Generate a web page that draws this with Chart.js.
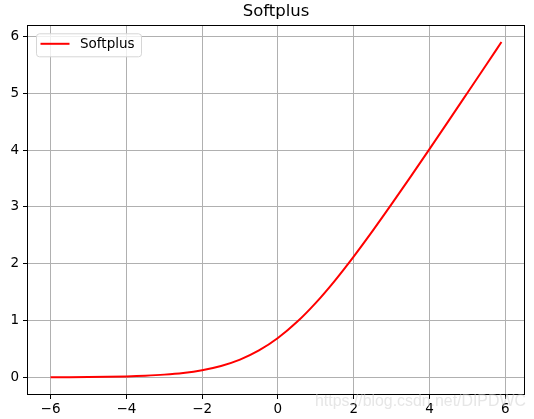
<!DOCTYPE html>
<html>
<head>
<meta charset="utf-8">
<script src="https://cdn.jsdelivr.net/npm/chart.js@4"></script>
<style>
	html, body {margin: 0; padding: 0; background: #fff;}
	#wrap {width: 534px; height: 419px;}
</style>
</head>
<body>
<div id="wrap"><canvas id="chart" width="534" height="419"></canvas></div>
<script>
// values, x from -6 to 5.9
var xValues = [-6, -5.5, -5, -4.5, -4, -3.5, -3, -2.5, -2, -1.5, -1, -0.5, 0, 0.5, 1, 1.5, 2, 2.5, 3, 3.5, 4, 4.5, 5, 5.5, 5.9];
var yValues = [0.0025, 0.0041, 0.0067, 0.011, 0.018, 0.030, 0.049, 0.079, 0.127, 0.201, 0.313, 0.474, 0.693, 0.974, 1.313, 1.701, 2.127, 2.579, 3.049, 3.530, 4.018, 4.511, 5.007, 5.504, 5.903];
var xTicks = [-6, -4, -2, 0, 2, 4, 6];
var yTicks = [0, 1, 2, 3, 4, 5, 6];
var seriesName = 'Softplus';
var watermark = 'https://blog.csdn.net/DIPDWC';

var tickFont = {family: 'DejaVu Sans', size: 13.5};

function minusLabel(v){
	return String(v).replace('-', '\u2212');
}

var points = [];
for(var i = 0; i < xValues.length; i++){
	points.push({x: xValues[i], y: yValues[i]});
}

// frame, legend box and watermark
var extras = {
	id: 'extras',
	afterDraw: function(chart){
		var ctx = chart.ctx;
		var a = chart.chartArea;
		ctx.save();
		ctx.strokeStyle = '#000';
		ctx.lineWidth = 1;
		ctx.strokeRect(27.5, 25.5, 497, 369);

		// legend
		var lx = a.left + 8.5, ly = a.top + 8.5, lw = 105, lh = 23, r = 3;
		ctx.beginPath();
		ctx.moveTo(lx + r, ly);
		ctx.arcTo(lx + lw, ly, lx + lw, ly + lh, r);
		ctx.arcTo(lx + lw, ly + lh, lx, ly + lh, r);
		ctx.arcTo(lx, ly + lh, lx, ly, r);
		ctx.arcTo(lx, ly, lx + lw, ly, r);
		ctx.closePath();
		ctx.fillStyle = 'rgba(255,255,255,0.8)';
		ctx.fill();
		ctx.strokeStyle = '#d6d6d6';
		ctx.lineWidth = 1;
		ctx.stroke();
		ctx.beginPath();
		ctx.moveTo(lx + 4, ly + 10);
		ctx.lineTo(lx + 33, ly + 10);
		ctx.strokeStyle = 'red';
		ctx.lineWidth = 2;
		ctx.stroke();
		ctx.fillStyle = '#000';
		ctx.font = '13.5px "DejaVu Sans"';
		ctx.textBaseline = 'middle';
		ctx.textAlign = 'left';
		ctx.fillText(chart.data.datasets[0].label, lx + 43.5, ly + 10.5);

		// watermark, fitted to span x 315..526
		ctx.font = '17px "Liberation Sans"';
		var wmSize = 17 * 211 / ctx.measureText(watermark).width;
		ctx.font = wmSize.toFixed(2) + 'px "Liberation Sans"';
		ctx.fillStyle = 'rgba(205,205,205,0.5)';
		ctx.textBaseline = 'alphabetic';
		ctx.fillText(watermark, 315, 406);
		ctx.restore();
	}
};

new Chart(document.getElementById('chart'), {
	type: 'line',
	data: {
		datasets: [
			{
				label: seriesName,
				data: points,
				borderColor: 'red',
				borderWidth: 2,
				pointRadius: 0,
				fill: false,
				cubicInterpolationMode: 'monotone'
			}
		]
	},
	options: {
		responsive: false,
		animation: false,
		devicePixelRatio: 1,
		layout: {padding: {left: 0, right: 10, top: 0, bottom: 0}},
		plugins: {
			legend: {display: false},
			tooltip: {enabled: false},
			title: {
				display: true,
				text: seriesName,
				fullSize: false,
				color: '#000',
				font: {family: 'DejaVu Sans', size: 16.5, weight: 'normal'},
				padding: {top: 2, bottom: 3.5}
			}
		},
		scales: {
			x: {
				type: 'linear',
				min: -6.595,
				max: 6.495,
				afterBuildTicks: function(scale){
					scale.ticks = xTicks.map(function(v){ return {value: v}; });
				},
				afterFit: function(scale){ scale.height = 25; },
				grid: {color: '#b0b0b0', lineWidth: 1, tickLength: 5, tickColor: '#000'},
				border: {display: false},
				ticks: {
					font: tickFont,
					color: '#000',
					padding: 2,
					maxRotation: 0,
					callback: function(v){ return minusLabel(v); }
				}
			},
			y: {
				type: 'linear',
				min: -0.292,
				max: 6.198,
				afterBuildTicks: function(scale){
					scale.ticks = yTicks.map(function(v){ return {value: v}; });
				},
				afterFit: function(scale){ scale.width = 28; },
				grid: {color: '#b0b0b0', lineWidth: 1, tickLength: 5, tickColor: '#000'},
				border: {display: false},
				ticks: {
					font: tickFont,
					color: '#000',
					padding: 4,
					callback: function(v){ return minusLabel(v); }
				}
			}
		}
	},
	plugins: [extras]
});
</script>
</body>
</html>
